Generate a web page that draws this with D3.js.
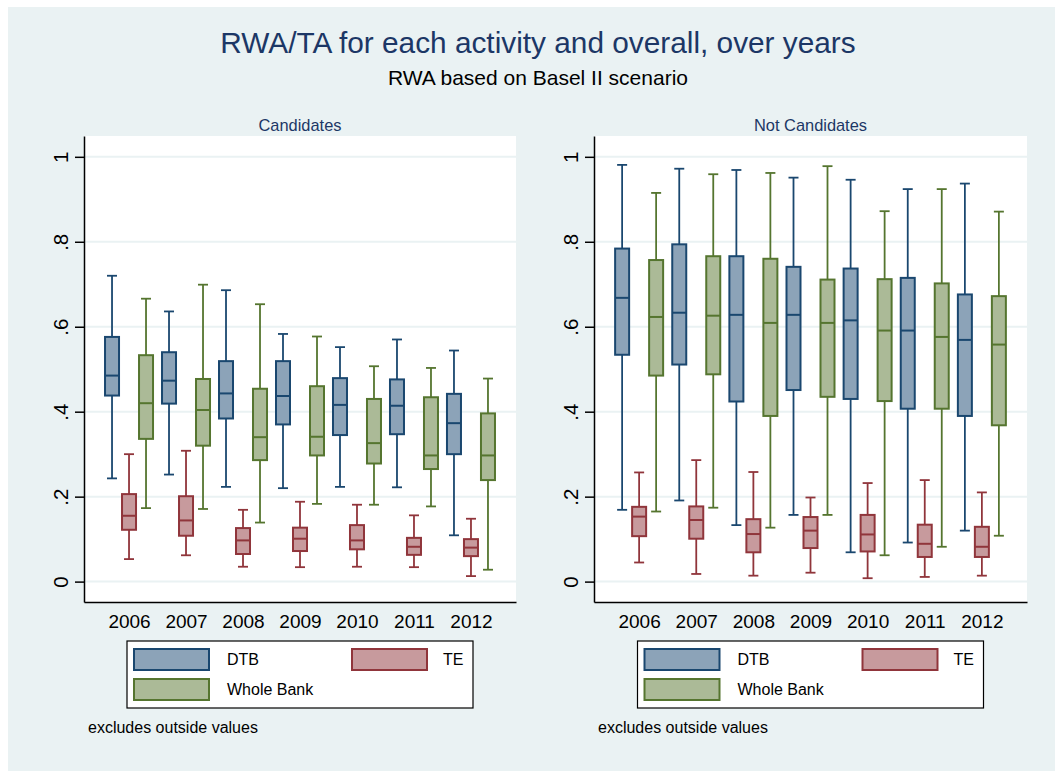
<!DOCTYPE html>
<html><head><meta charset="utf-8">
<script src="https://cdn.jsdelivr.net/npm/d3@7"></script>
<style>
html,body{margin:0;padding:0;background:#fff;}
text{font-family:"Liberation Sans",Arial,sans-serif;}
</style></head>
<body>
<svg id="chart" width="1055" height="771"></svg>
<script>
// ---- data: [lower whisker, Q1, median, Q3, upper whisker] per year ----
const years = ["2006","2007","2008","2009","2010","2011","2012"];
const seriesNames = ["DTB","TE","Whole Bank"];
const panelTitles = ["Candidates","Not Candidates"];
const yTicks = [0, 0.2, 0.4, 0.6, 0.8, 1];
const yTickLabels = ["0", ".2", ".4", ".6", ".8", "1"];

const candDTB = [
  [0.243,0.438,0.485,0.576,0.720],
  [0.252,0.419,0.473,0.540,0.636],
  [0.223,0.384,0.443,0.519,0.686],
  [0.220,0.370,0.437,0.519,0.583],
  [0.223,0.345,0.416,0.479,0.552],
  [0.222,0.347,0.414,0.476,0.570],
  [0.109,0.300,0.373,0.442,0.544]];
const candTE = [
  [0.053,0.122,0.155,0.206,0.300],
  [0.062,0.108,0.144,0.201,0.308],
  [0.035,0.065,0.097,0.126,0.169],
  [0.034,0.072,0.101,0.127,0.188],
  [0.035,0.076,0.097,0.133,0.181],
  [0.034,0.063,0.082,0.103,0.156],
  [0.013,0.060,0.080,0.100,0.148]];
const candWB = [
  [0.173,0.336,0.420,0.533,0.666],
  [0.171,0.320,0.404,0.477,0.699],
  [0.139,0.286,0.340,0.454,0.653],
  [0.183,0.297,0.341,0.460,0.577],
  [0.181,0.278,0.326,0.430,0.507],
  [0.177,0.265,0.297,0.434,0.503],
  [0.028,0.239,0.297,0.396,0.478]];
const notDTB = [
  [0.169,0.534,0.668,0.784,0.981],
  [0.191,0.511,0.633,0.794,0.972],
  [0.133,0.424,0.628,0.766,0.969],
  [0.157,0.451,0.628,0.741,0.951],
  [0.069,0.430,0.615,0.737,0.946],
  [0.092,0.407,0.591,0.715,0.924],
  [0.120,0.390,0.569,0.676,0.937]];
const notTE = [
  [0.045,0.107,0.153,0.176,0.257],
  [0.018,0.101,0.145,0.177,0.286],
  [0.014,0.069,0.112,0.147,0.258],
  [0.021,0.079,0.120,0.152,0.198],
  [0.008,0.071,0.111,0.157,0.232],
  [0.011,0.058,0.089,0.134,0.239],
  [0.014,0.058,0.082,0.129,0.210]];
const notWB = [
  [0.165,0.485,0.623,0.757,0.915],
  [0.174,0.488,0.626,0.766,0.959],
  [0.127,0.390,0.609,0.760,0.962],
  [0.157,0.435,0.609,0.711,0.978],
  [0.062,0.425,0.591,0.712,0.872],
  [0.082,0.407,0.576,0.702,0.924],
  [0.108,0.368,0.558,0.672,0.871]];

const panelData = [[candDTB, candTE, candWB],[notDTB, notTE, notWB]];

// ---- styles ----
const strokeCol = ["#1a476f","#90353b","#55752f"];
const fillCol   = ["#8ca3b8","#c79a9d","#abba97"];
const bg = "#eaf2f3";

const svg = d3.select("#chart");
svg.append("rect").attr("x",8).attr("y",7).attr("width",1055-8).attr("height",771-7).attr("fill",bg);

svg.append("text").attr("x",538).attr("y",53).attr("text-anchor","middle")
  .attr("font-size",29.8).attr("fill","#1c3766").text("RWA/TA for each activity and overall, over years");
svg.append("text").attr("x",538).attr("y",85).attr("text-anchor","middle")
  .attr("font-size",21).attr("fill","#000").text("RWA based on Basel II scenario");

const plotTop = 136, plotBottom = 602;
const panels = [{left:84,right:516},{left:594,right:1027}];

const y = d3.scaleLinear().domain([-0.048, 1.049]).range([plotBottom, plotTop]);
const sub = d3.scalePoint().domain(seriesNames).range([-17, 17]);
const boxW = 14, capW = 10;

panels.forEach((p, pi) => {
  const g = svg.append("g");
  const x = d3.scalePoint().domain(years).range([p.left, p.right]).padding(0.79);
  // plot region
  g.append("rect").attr("x",p.left).attr("y",plotTop).attr("width",p.right-p.left)
    .attr("height",plotBottom-plotTop).attr("fill","#fff");
  // gridlines
  g.selectAll(".grid").data(yTicks).join("line")
    .attr("x1",p.left).attr("x2",p.right)
    .attr("y1",d=>y(d)).attr("y2",d=>y(d))
    .attr("stroke",bg).attr("stroke-width",2);
  // panel title
  g.append("text").attr("x",(p.left+p.right)/2).attr("y",131).attr("text-anchor","middle")
    .attr("font-size",16.4).attr("fill","#1c3766").text(panelTitles[pi]);

  // boxes
  panelData[pi].forEach((series, si) => {
    const sg = g.append("g");
    const items = series.map((d,i)=>({d, cx: x(years[i]) + sub(seriesNames[si])}));
    const it = sg.selectAll("g").data(items).join("g");
    // whiskers
    it.append("line").attr("x1",o=>o.cx).attr("x2",o=>o.cx)
      .attr("y1",o=>y(o.d[4])).attr("y2",o=>y(o.d[3]))
      .attr("stroke",strokeCol[si]).attr("stroke-width",1.8);
    it.append("line").attr("x1",o=>o.cx).attr("x2",o=>o.cx)
      .attr("y1",o=>y(o.d[1])).attr("y2",o=>y(o.d[0]))
      .attr("stroke",strokeCol[si]).attr("stroke-width",1.8);
    // caps
    [0,4].forEach(k=>{
      it.append("line").attr("x1",o=>o.cx-capW/2).attr("x2",o=>o.cx+capW/2)
        .attr("y1",o=>y(o.d[k])).attr("y2",o=>y(o.d[k]))
        .attr("stroke",strokeCol[si]).attr("stroke-width",1.8);
    });
    // box
    it.append("rect").attr("x",o=>o.cx-boxW/2).attr("width",boxW)
      .attr("y",o=>y(o.d[3])).attr("height",o=>y(o.d[1])-y(o.d[3]))
      .attr("fill",fillCol[si]).attr("stroke",strokeCol[si]).attr("stroke-width",2);
    // median
    it.append("line").attr("x1",o=>o.cx-boxW/2).attr("x2",o=>o.cx+boxW/2)
      .attr("y1",o=>y(o.d[2])).attr("y2",o=>y(o.d[2]))
      .attr("stroke",strokeCol[si]).attr("stroke-width",2);
  });

  // y axis
  const ya = g.append("g").attr("transform",`translate(${p.left},0)`)
    .call(d3.axisLeft(y).tickValues(yTicks).tickSizeInner(9).tickSizeOuter(0)
      .tickFormat((d,i)=>yTickLabels[i]));
  ya.select(".domain").attr("stroke","#000").attr("stroke-width",1.5);
  ya.selectAll(".tick line").attr("stroke","#000").attr("stroke-width",1.5);
  ya.selectAll(".tick text").attr("font-size",20.5).attr("fill","#000")
    .attr("font-family","Liberation Sans, Arial, sans-serif")
    .attr("x",0).attr("dy",0).attr("text-anchor","middle")
    .attr("transform","translate(-16,0) rotate(-90)");

  // x axis
  const xa = g.append("g").attr("transform",`translate(0,${plotBottom})`)
    .call(d3.axisBottom(x).tickSize(0).tickPadding(13));
  xa.select(".domain").attr("stroke","#000").attr("stroke-width",1.5);
  xa.selectAll(".tick text").attr("font-size",19).attr("fill","#000")
    .attr("font-family","Liberation Sans, Arial, sans-serif");

  // legend
  const lw = 346, lx = (p.left+p.right)/2 - lw/2, ly = 641;
  const lg = g.append("g").attr("transform",`translate(${lx},${ly})`);
  lg.append("rect").attr("width",lw).attr("height",67).attr("fill","#fff")
    .attr("stroke","#000").attr("stroke-width",1.2);
  const legPos = [{sx:7,sy:8,tx:100},{sx:225,sy:8,tx:316},{sx:7,sy:38,tx:100}];
  seriesNames.forEach((nm, si)=>{
    const lp = legPos[si];
    lg.append("rect").attr("x",lp.sx).attr("y",lp.sy).attr("width",75).attr("height",21)
      .attr("fill",fillCol[si]).attr("stroke",strokeCol[si]).attr("stroke-width",2);
    lg.append("text").attr("x",lp.tx).attr("y",lp.sy+16).attr("font-size",16)
      .attr("fill","#000").text(nm);
  });
  g.append("text").attr("x",p.left+4).attr("y",733).attr("font-size",16)
    .attr("fill","#000").text("excludes outside values");
});
</script>
</body></html>
